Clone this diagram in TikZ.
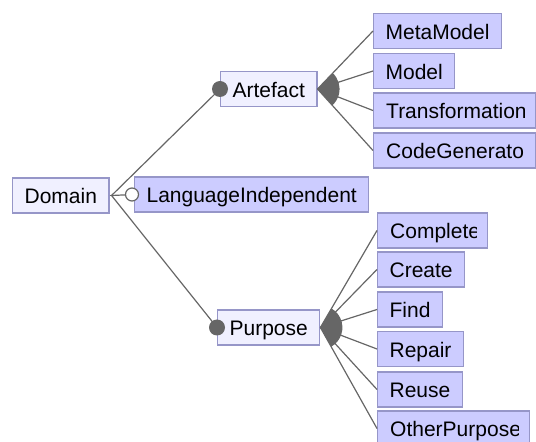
\documentclass[tikz,border=0pt]{standalone}
\usepackage{fontspec}
\setmainfont{Liberation Sans}
\usetikzlibrary{calc}

\definecolor{featfill}{RGB}{240,240,255}
\definecolor{subfill}{RGB}{204,204,255}
\definecolor{featline}{RGB}{150,150,200}
\definecolor{linkgray}{RGB}{102,102,102}

\tikzset{
	feature/.style={draw=featline, fill=featfill, line width=1.2pt, anchor=west,
		inner xsep=12pt, inner ysep=6pt, text height=20pt, text depth=3pt, minimum height=35pt},
	sub/.style={feature, fill=subfill},
	cut/.style 2 args={minimum width=#1, path picture={
		\clip ([xshift=12pt]path picture bounding box.south west) rectangle ([xshift=-11pt]path picture bounding box.north east);
		\node[anchor=base west, inner sep=0pt, draw=none, fill=none, minimum width=0pt, minimum height=0pt,
			text height={}, text depth={}] at ([xshift=12pt, yshift=-8.5pt]path picture bounding box.west) {#2};}},
	link/.style={linkgray, line width=1.2pt},
}

\begin{document}
\begin{tikzpicture}[x=1pt, y=1pt, font=\fontsize{21pt}{25pt}\selectfont]
	\useasboundingbox (0, 0) rectangle (536, 442);

	% features
	\node[feature] (Domain) at (12, 246.5) {Domain};
	\node[feature] (Artefact) at (220, 353) {Artefact};
	\node[sub] (LanguageIndependent) at (134, 247.5) {LanguageIndependent};
	\node[feature] (Purpose) at (217, 114.5) {Purpose};

	% artefact kinds
	\node[sub] (MetaModel) at (373, 411) {MetaModel};
	\node[sub] (Model) at (373, 371) {Model};
	\node[sub, cut={162pt}{Transformation}] (Transformation) at (373, 331.5) {};
	\node[sub, cut={162pt}{CodeGenerator}] (CodeGenerator) at (373, 291.5) {};

	% purposes
	\node[sub, cut={110pt}{Complete}] (Complete) at (377, 211.5) {};
	\node[sub] (Create) at (377, 172.5) {Create};
	\node[sub] (Find) at (377, 132.5) {Find};
	\node[sub] (Repair) at (377, 93) {Repair};
	\node[sub] (Reuse) at (377, 52.5) {Reuse};
	\node[sub, cut={152pt}{OtherPurpose}] (OtherPurpose) at (377, 13.5) {};

	% links
	\coordinate (fork) at ([xshift=2pt]Domain.east);
	\draw[link] (Domain.east) -- (fork);
	\foreach \f in {Artefact, LanguageIndependent, Purpose}
		\draw[link] (fork) -- (\f.west);
	\foreach \c in {MetaModel, Model, Transformation, CodeGenerator}
		\draw[link] (Artefact.east) -- (\c.west);
	\foreach \c in {Complete, Create, Find, Repair, Reuse, OtherPurpose}
		\draw[link] (Purpose.east) -- (\c.west);

	% or-groups
	\fill[linkgray] let \p1 = ($(MetaModel.west)-(Artefact.east)$), \p2 = ($(CodeGenerator.west)-(Artefact.east)$),
		\n1 = {atan2(\y1, \x1)}, \n2 = {atan2(\y2, \x2)} in
		(Artefact.east) -- ++(\n1:22) arc[start angle=\n1, end angle=\n2, radius=22] -- cycle;
	\fill[linkgray] let \p1 = ($(Complete.west)-(Purpose.east)$), \p2 = ($(OtherPurpose.west)-(Purpose.east)$),
		\n1 = {atan2(\y1, \x1)}, \n2 = {atan2(\y2, \x2)} in
		(Purpose.east) -- ++(\n1:22) arc[start angle=\n1, end angle=\n2, radius=22] -- cycle;

	% mandatory / optional markers
	\fill[linkgray] (Artefact.west) circle [radius=8];
	\fill[linkgray] (Purpose.west) circle [radius=8];
	\draw[link, fill=white] ([xshift=-2pt]LanguageIndependent.west) circle [radius=6.5];
\end{tikzpicture}
\end{document}
